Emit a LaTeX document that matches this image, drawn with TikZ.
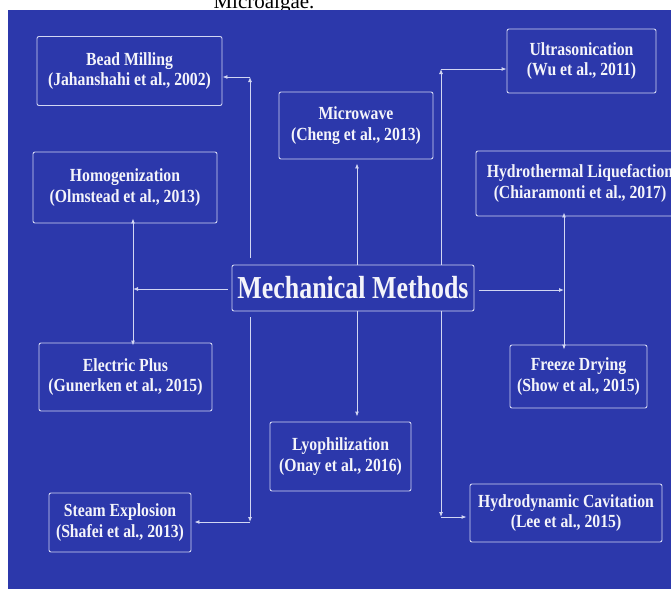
\documentclass[tikz,border=0pt]{standalone}
\usepackage{fontspec}
\setmainfont{Liberation Serif}
\newfontfamily\boxfont{Liberation Serif}[FakeStretch=0.85]
\newfontfamily\hubfont{Liberation Serif}[FakeStretch=0.81]
\usepackage{xcolor}
\usepackage{tikz}
\usetikzlibrary{calc,arrows.meta}
\definecolor{bg}{HTML}{2C38AB}
\definecolor{edge}{HTML}{D2D6F2}
\definecolor{ink}{HTML}{F4F4FA}
\tikzset{
  methodbox/.style={draw=edge, line width=0.9pt, rounded corners=2pt, align=center, text=ink, inner sep=0pt,
    font=\boxfont\bfseries\fontsize{18.5}{20.5}\selectfont},
  hubbox/.style={methodbox, font=\hubfont\bfseries\fontsize{32}{36}\selectfont},
  link/.style={draw=edge, line width=0.9pt, -{Latex[length=5pt,width=4pt]}},
}

\begin{document}
\begin{tikzpicture}[x=1pt, y=-1pt]
  \useasboundingbox (0,0) rectangle (671,589);
  \node[anchor=base, font=\fontsize{21}{24}\selectfont] (caption) at (264,9) {Microalgae.};
  \fill[bg] (8,10) rectangle (671,589);

  % boxes
  \node[hubbox, minimum width=242, minimum height=46] (mech) at (353,288) {Mechanical Methods};
  \node[methodbox, minimum width=185, minimum height=69] (bead) at (129.5,71) {Bead Milling\\(Jahanshahi et al., 2002)};
  \node[methodbox, minimum width=184, minimum height=71] (homog) at (125,187.5) {Homogenization\\(Olmstead et al., 2013)};
  \node[methodbox, minimum width=173, minimum height=68] (electric) at (125.5,377) {Electric Plus\\(Gunerken et al., 2015)};
  \node[methodbox, minimum width=142, minimum height=59] (steam) at (120,522.5) {Steam Explosion\\(Shafei et al., 2013)};
  \node[methodbox, minimum width=154, minimum height=67] (micro) at (356,125.5) {Microwave\\(Cheng et al., 2013)};
  \node[methodbox, minimum width=141, minimum height=69] (lyo) at (340.5,456.5) {Lyophilization\\(Onay et al., 2016)};
  \node[methodbox, minimum width=149, minimum height=64] (ultra) at (581.5,61) {Ultrasonication\\(Wu et al., 2011)};
  \node[methodbox, minimum width=208, minimum height=65] (hydroth) at (580,183.5) {Hydrothermal Liquefaction\\(Chiaramonti et al., 2017)};
  \node[methodbox, minimum width=137, minimum height=63] (freeze) at (578.5,376.5) {Freeze Drying\\(Show et al., 2015)};
  \node[methodbox, minimum width=192, minimum height=58] (hydrodyn) at (566,513) {Hydrodynamic Cavitation\\(Lee et al., 2015)};

  % branch points
  \coordinate (lt) at (250,258);
  \coordinate (lcor) at (250,77);
  \coordinate (lb) at (250,317);
  \coordinate (lbcor) at (250,522);
  \coordinate (lj) at (133,289);
  \coordinate (midx) at (357,288);
  \coordinate (rt) at (441,69);
  \coordinate (rb) at (441,517);
  \coordinate (rj) at (564,290);

  % left column
  \draw[link] (lt) -- (lcor);
  \draw[link] (lcor) -- (lcor -| bead.east);
  \draw[link] (lb) -- (lbcor);
  \draw[link] (lbcor) -- ([xshift=3pt]lbcor -| steam.east);
  \draw[link, shorten <=4pt] (mech.west |- lj) -- (lj);
  \draw[link] (lj) -- ([yshift=5pt]lj |- homog.south);
  \draw[link] (lj) -- ([yshift=-3pt]lj |- electric.north);

  % middle
  \draw[link] (midx |- mech.north) -- ([yshift=-4pt]midx |- micro.south);
  \draw[link] (midx |- mech.south) -- ([yshift=5pt]midx |- lyo.north);

  % right column
  \draw[link] (rt |- mech.north) -- (rt);
  \draw[link] (rt) -- (rt -| ultra.west);
  \draw[link] (rb |- mech.south) -- (rb);
  \draw[link] (rb) -- ([xshift=-3pt]rb -| hydrodyn.west);
  \draw[link, shorten <=5pt] (mech.east |- rj) -- (rj);
  \draw[link] (rj) -- ([yshift=4pt]rj |- hydroth.south);
  \draw[link] (rj) -- ([yshift=-5pt]rj |- freeze.north);
\end{tikzpicture}
\end{document}
